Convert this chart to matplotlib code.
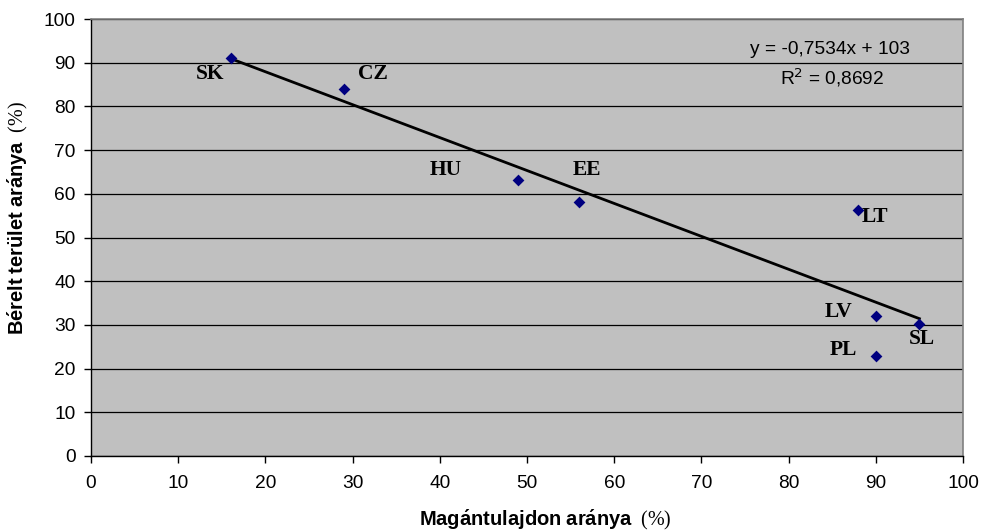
import matplotlib
matplotlib.use("Agg")
import matplotlib.pyplot as plt
import numpy as np

countries = ["SK", "CZ", "HU", "EE", "LT", "LV", "SL", "PL"]
own_share = [16, 29, 49, 56, 88, 90, 95, 90]
rent_share = [91, 84, 63.2, 58.1, 56.4, 32.1, 30.3, 22.9]
slope = -0.7534
intercept = 103
r2 = 0.8692
x_ticks = list(range(0, 101, 10))
y_ticks = list(range(0, 101, 10))

# label offsets in pixels (style)
label_offsets = {"SK": (-20, -16), "CZ": (29, 15), "HU": (-73, 10), "EE": (8, 32),
                 "LT": (17, -7), "LV": (-37, 4), "SL": (2, -15), "PL": (-32, 6)}

plt.rcParams["mathtext.fontset"] = "custom"
plt.rcParams["mathtext.rm"] = "Liberation Serif"
plt.rcParams["mathtext.bf"] = "Liberation Sans:bold"
plt.rcParams["mathtext.it"] = "Liberation Serif:italic"

fig = plt.figure(figsize=(9.83, 5.31), dpi=100)
ax = fig.add_axes([91/983, 75/531, 872/983, 437/531])
ax.set_facecolor("#C0C0C0")
ax.set_xlim(0, 100)
ax.set_ylim(0, 100)
ax.set_xticks(x_ticks)
ax.set_yticks(y_ticks)
ax.yaxis.grid(True, color="black", linewidth=0.9)
ax.set_axisbelow(True)
for s in ["top", "right"]:
    ax.spines[s].set_color("#808080")
    ax.spines[s].set_linewidth(1.2)
for s in ["left", "bottom"]:
    ax.spines[s].set_color("black")
    ax.spines[s].set_linewidth(1.0)
ax.tick_params(axis="both", direction="out", length=5, width=1, labelsize=13.8)
ax.tick_params(axis="x", pad=9)
ax.tick_params(axis="y", pad=6)
for lab in ax.get_xticklabels() + ax.get_yticklabels():
    lab.set_fontfamily("Liberation Sans")

# trendline
xs = np.array([min(own_share), max(own_share)])
ax.plot(xs, slope * xs + intercept, color="black", linewidth=2, zorder=3)

ax.scatter(own_share, rent_share, marker="D", s=36, color="#000080", zorder=4, linewidths=0)

for c, x, y in zip(countries, own_share, rent_share):
    dx, dy = label_offsets[c]
    ax.annotate(c, (x, y), xytext=(dx, dy), textcoords="offset pixels",
                ha="center", va="center", fontsize=15.5, fontweight="bold",
                family="Liberation Serif", zorder=5)

eq = f"y = {slope:.4f}x + {intercept}".replace(".", ",")
ax.text(830/983, 1 - 50/531, eq, transform=fig.transFigure, ha="center", va="center",
        fontsize=13.8, family="Liberation Sans")
ax.text(832/983, 1 - 78/531, f"R$^{{\\mathsf{{2}}}}$ = {r2:.4f}".replace(".", ","),
        transform=fig.transFigure, ha="center", va="center", fontsize=13.8,
        family="Liberation Sans")

fig.text(545/983, 1 - 520/531, r"$\mathbf{Mag\acute{a}ntulajdon\ ar\acute{a}nya}\ \ \mathrm{(\%)}$",
         ha="center", va="center", fontsize=14.5)
fig.text(18/983, 1 - 218/531, r"$\mathbf{B\acute{e}relt\ ter\ddot{u}let\ ar\acute{a}nya}\ \ \mathrm{(\%)}$",
         ha="center", va="center", fontsize=14.5, rotation=90)

fig.savefig("out.png", dpi=100)
